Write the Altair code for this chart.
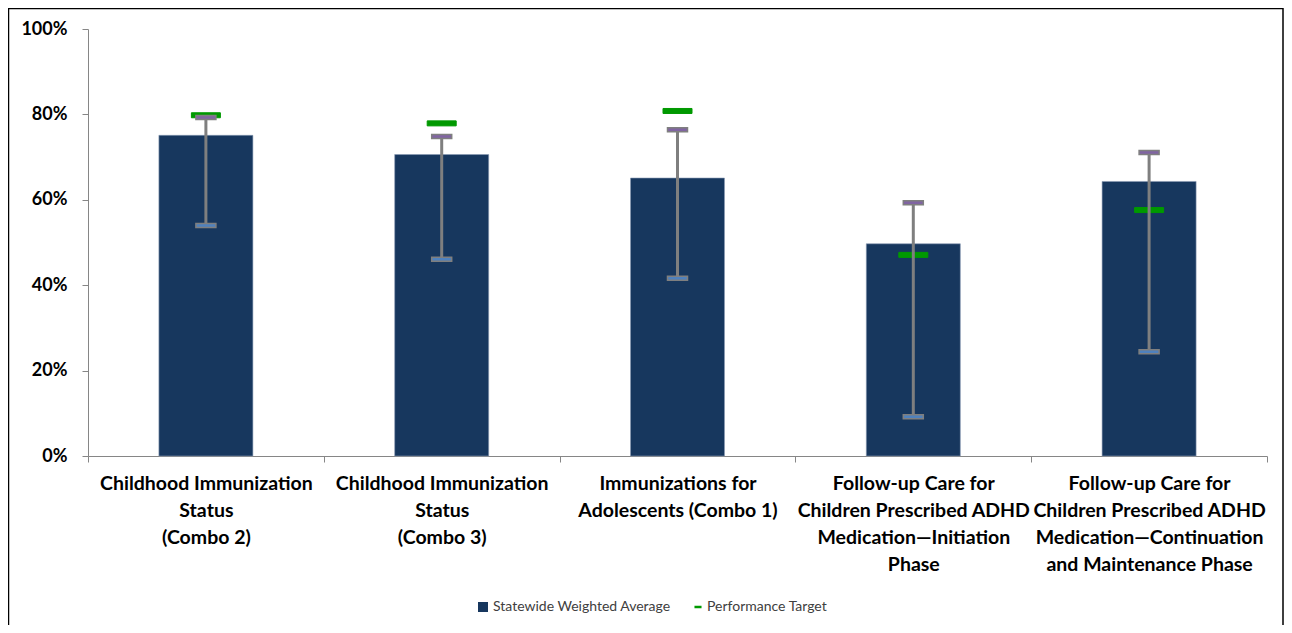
import altair as alt
import pandas as pd

# ---- data ----
category_lines = [
    ["Childhood Immunization", "Status", "(Combo 2)"],
    ["Childhood Immunization", "Status", "(Combo 3)"],
    ["Immunizations for", "Adolescents (Combo 1)"],
    ["Follow-up Care for", "Children Prescribed ADHD", "Medication\u2014Initiation", "Phase"],
    ["Follow-up Care for", "Children Prescribed ADHD", "Medication\u2014Continuation", "and Maintenance Phase"],
]
averages = [75.1, 70.6, 65.1, 49.7, 64.3]
targets = [79.8, 77.9, 80.8, 47.1, 57.6]
highs = [79.3, 74.8, 76.4, 59.3, 71.1]
lows = [54.0, 46.1, 41.6, 9.2, 24.4]
y_ticks = [0, 0.2, 0.4, 0.6, 0.8, 1.0]
series_names = ["Statewide Weighted Average", "Performance Target"]

categories = ["\n".join(c) for c in category_lines]

df = pd.DataFrame({
    "category": categories,
    "avg": [v / 100 for v in averages],
    "target": [v / 100 for v in targets],
    "high": [v / 100 for v in highs],
    "low": [v / 100 for v in lows],
    "s_avg": series_names[0],
    "s_tgt": series_names[1],
})

NAVY = "#17375E"
GREEN = "#009900"
GRAY = "#7F7F7F"
FONT = "Lato"

x_enc = alt.X(
    "category:N",
    sort=categories,
    scale=alt.Scale(paddingInner=0, paddingOuter=0),
    axis=alt.Axis(
        title=None,
        labelAngle=0,
        labelExpr="split(datum.label, '\\n')",
        labelFont=FONT,
        labelFontSize=19.5,
        labelFontWeight="bold",
        labelColor="#000000",
        labelLineHeight=27,
        labelPadding=12,
        labelBaseline="top",
        tickBand="extent",
        tickSize=6,
        tickColor="#868686",
        domainColor="#868686",
        labelLimit=300,
    ),
)

y_axis = alt.Axis(
    title=None,
    values=y_ticks,
    format=".0%",
    labelFont=FONT,
    labelFontSize=18,
    labelFontWeight="bold",
    labelColor="#000000",
    labelPadding=15,
    tickSize=6,
    tickColor="#868686",
    domainColor="#868686",
    grid=False,
)
y_scale = alt.Scale(domain=[0, 1], nice=False)

legend_common = dict(
    title=None,
    orient="none",
    labelFont=FONT,
    labelFontSize=14,
    labelColor="#404040",
    labelLimit=400,
    padding=0,
)

legend_avg = alt.Legend(
    legendX=388, legendY=571,
    symbolType="square", symbolSize=100, symbolStrokeWidth=0, labelOffset=3,
    **legend_common,
)
legend_tgt = alt.Legend(
    legendX=603, legendY=571,
    symbolType="M-1,0H1", symbolSize=50, symbolStrokeWidth=2.5, labelOffset=2,
    **legend_common,
)

base = alt.Chart(df).encode(x=x_enc)

bars = base.mark_bar(size=94, stroke="#8A9BB3", strokeWidth=0.6).encode(
    y=alt.Y("avg:Q", scale=y_scale, axis=y_axis),
    fill=alt.Fill("s_avg:N", scale=alt.Scale(domain=[series_names[0]], range=[NAVY]),
                  legend=legend_avg),
)

target = base.mark_tick(size=29, thickness=5, fill=GREEN, strokeWidth=1, opacity=1).encode(
    y=alt.Y("target:Q"),
    stroke=alt.Stroke("s_tgt:N", scale=alt.Scale(domain=[series_names[1]], range=[GREEN]),
                      legend=legend_tgt),
)

rule = base.mark_rule(color=GRAY, strokeWidth=3).encode(
    y=alt.Y("low:Q"),
    y2="high:Q",
)

cap_high = base.mark_tick(size=20, thickness=4, fill="#8064A2", stroke=GRAY,
                          strokeWidth=1.5, opacity=1).encode(y=alt.Y("high:Q"))
cap_low = base.mark_tick(size=20, thickness=4, fill="#4F81BD", stroke=GRAY,
                         strokeWidth=1.5, opacity=1).encode(y=alt.Y("low:Q"))

frame = alt.Chart(alt.Data(values=[{"f": 1}])).mark_rect(
    filled=False, stroke="#000000", strokeWidth=1.5
).encode(
    x=alt.value(-79.5), x2=alt.value(1195),
    y=alt.value(-20.5), y2=alt.value(700),
)

chart = alt.layer(bars, target, rule, cap_high, cap_low, frame).properties(
    width=1179,
    height=427,
    padding={"left": 80, "top": 21, "right": 17, "bottom": 169},
    autosize=alt.AutoSizeParams(type="none"),
    background="white",
).configure_view(stroke=None)

chart.save("out.html", embed_options={"renderer": "svg", "actions": False})
